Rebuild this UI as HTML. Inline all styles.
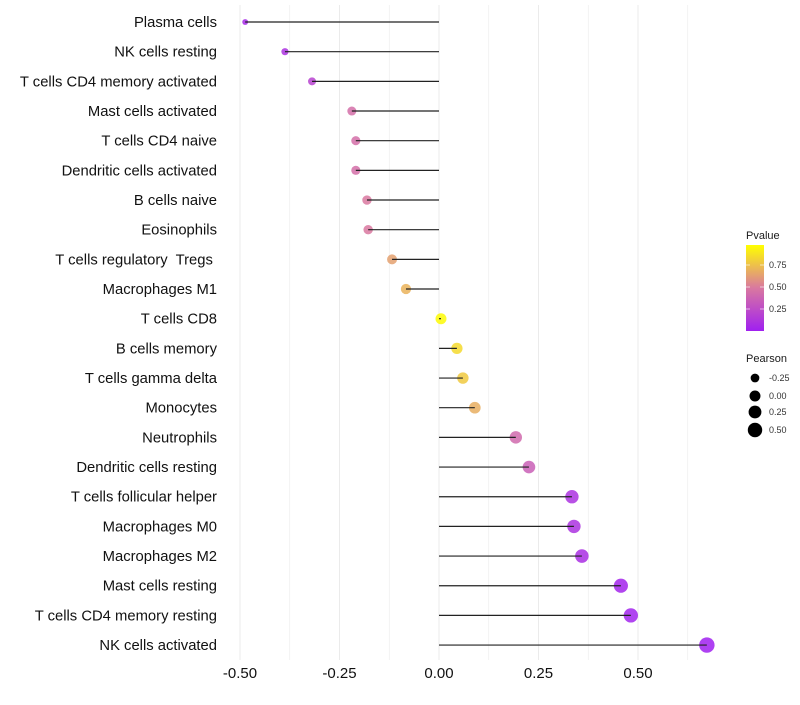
<!DOCTYPE html>
<html><head><meta charset="utf-8"><style>
body{margin:0;background:#fff;font-family:"Liberation Sans",sans-serif}
text{white-space:pre}
</style></head><body>
<svg id="c" width="800" height="700" xmlns="http://www.w3.org/2000/svg"></svg>
<script>
const categories=["Plasma cells","NK cells resting","T cells CD4 memory activated","Mast cells activated","T cells CD4 naive","Dendritic cells activated","B cells naive","Eosinophils","T cells regulatory  Tregs ","Macrophages M1","T cells CD8","B cells memory","T cells gamma delta","Monocytes","Neutrophils","Dendritic cells resting","T cells follicular helper","Macrophages M0","Macrophages M2","Mast cells resting","T cells CD4 memory resting","NK cells activated"];
const pearson=[-0.487,-0.387,-0.319,-0.219,-0.209,-0.209,-0.181,-0.178,-0.118,-0.083,0.005,0.045,0.060,0.090,0.193,0.226,0.334,0.339,0.359,0.457,0.482,0.673];
const pvalue=[0.05,0.1,0.2,0.45,0.45,0.45,0.5,0.5,0.65,0.72,0.98,0.86,0.8,0.7,0.42,0.36,0.1,0.1,0.08,0.03,0.02,0.002];
const xTicks=[-0.5,-0.25,0,0.25,0.5];
const xTickLabels=["-0.50","-0.25","0.00","0.25","0.50"];
const NS="http://www.w3.org/2000/svg";
const svg=document.getElementById('c');
const x=v=>439+v*398;
const y=i=>22+i*29.67;
function mk(t,a,p){const e=document.createElementNS(NS,t);for(const k in a)e.setAttribute(k,a[k]);(p||svg).appendChild(e);return e;}
function lerp(a,b,t){return a.map((v,i)=>Math.round(v+(b[i]-v)*t));}
function col(p){const s=[[160,32,240],[217,120,160],[255,255,0]];const c=p<0.5?lerp(s[0],s[1],p/0.5):lerp(s[1],s[2],(p-0.5)/0.5);return `rgb(${c})`;}
const rad=v=>Math.sqrt(Math.max(1,30+44*v));
for(let g=-0.5;g<=0.63;g+=0.125){const l=mk('line',{x1:x(g),x2:x(g),y1:5,y2:660,stroke:'#ebebeb','stroke-width':Math.abs(g*4%1)<1e-6?1:0.6});
}
categories.forEach((c,i)=>{
 const t=mk('text',{x:217,y:y(i)+5,'text-anchor':'end','font-size':14.8,fill:'#111'});t.textContent=c;
 
 const pt=mk('circle',{cx:x(pearson[i]),cy:y(i),r:rad(pearson[i]),fill:col(pvalue[i]),'fill-opacity':0.85});
 
 const s=mk('line',{x1:x(0),x2:x(pearson[i]),y1:y(i),y2:y(i),stroke:'#222','stroke-width':1.2});
 
});
xTicks.forEach((v,i)=>{const t=mk('text',{x:x(v),y:678,'text-anchor':'middle','font-size':15,fill:'#111'});t.textContent=xTickLabels[i];
});
const defs=mk('defs',{});const gr=mk('linearGradient',{id:'g',x1:0,y1:1,x2:0,y2:0},defs);
[0,0.25,0.5,0.75,1].forEach(o=>mk('stop',{offset:o,'stop-color':col(o)},gr));
let t=mk('text',{x:746,y:239,'font-size':11,fill:'#1a1a1a'});t.textContent='Pvalue';

const cb=mk('rect',{x:746,y:245,width:18,height:86,fill:'url(#g)'});

[[0.75,265],[0.5,287],[0.25,309]].forEach(([v,yy])=>{mk('line',{x1:746,x2:750,y1:yy,y2:yy,stroke:'#fff','stroke-opacity':0.6});mk('line',{x1:760,x2:764,y1:yy,y2:yy,stroke:'#fff','stroke-opacity':0.6});
const l=mk('text',{x:769,y:yy+3,'font-size':9,fill:'#333'});l.textContent=v.toFixed(2);
});
t=mk('text',{x:746,y:362,'font-size':11,fill:'#1a1a1a'});t.textContent='Pearson';

[[-0.25,378],[0,396],[0.25,412],[0.5,430]].forEach(([v,yy])=>{const c=mk('circle',{cx:755,cy:yy,r:rad(v),fill:'#000'});

const l=mk('text',{x:769,y:yy+3,'font-size':9,fill:'#333'});l.textContent=v.toFixed(2);
});
</script>
</body></html>
